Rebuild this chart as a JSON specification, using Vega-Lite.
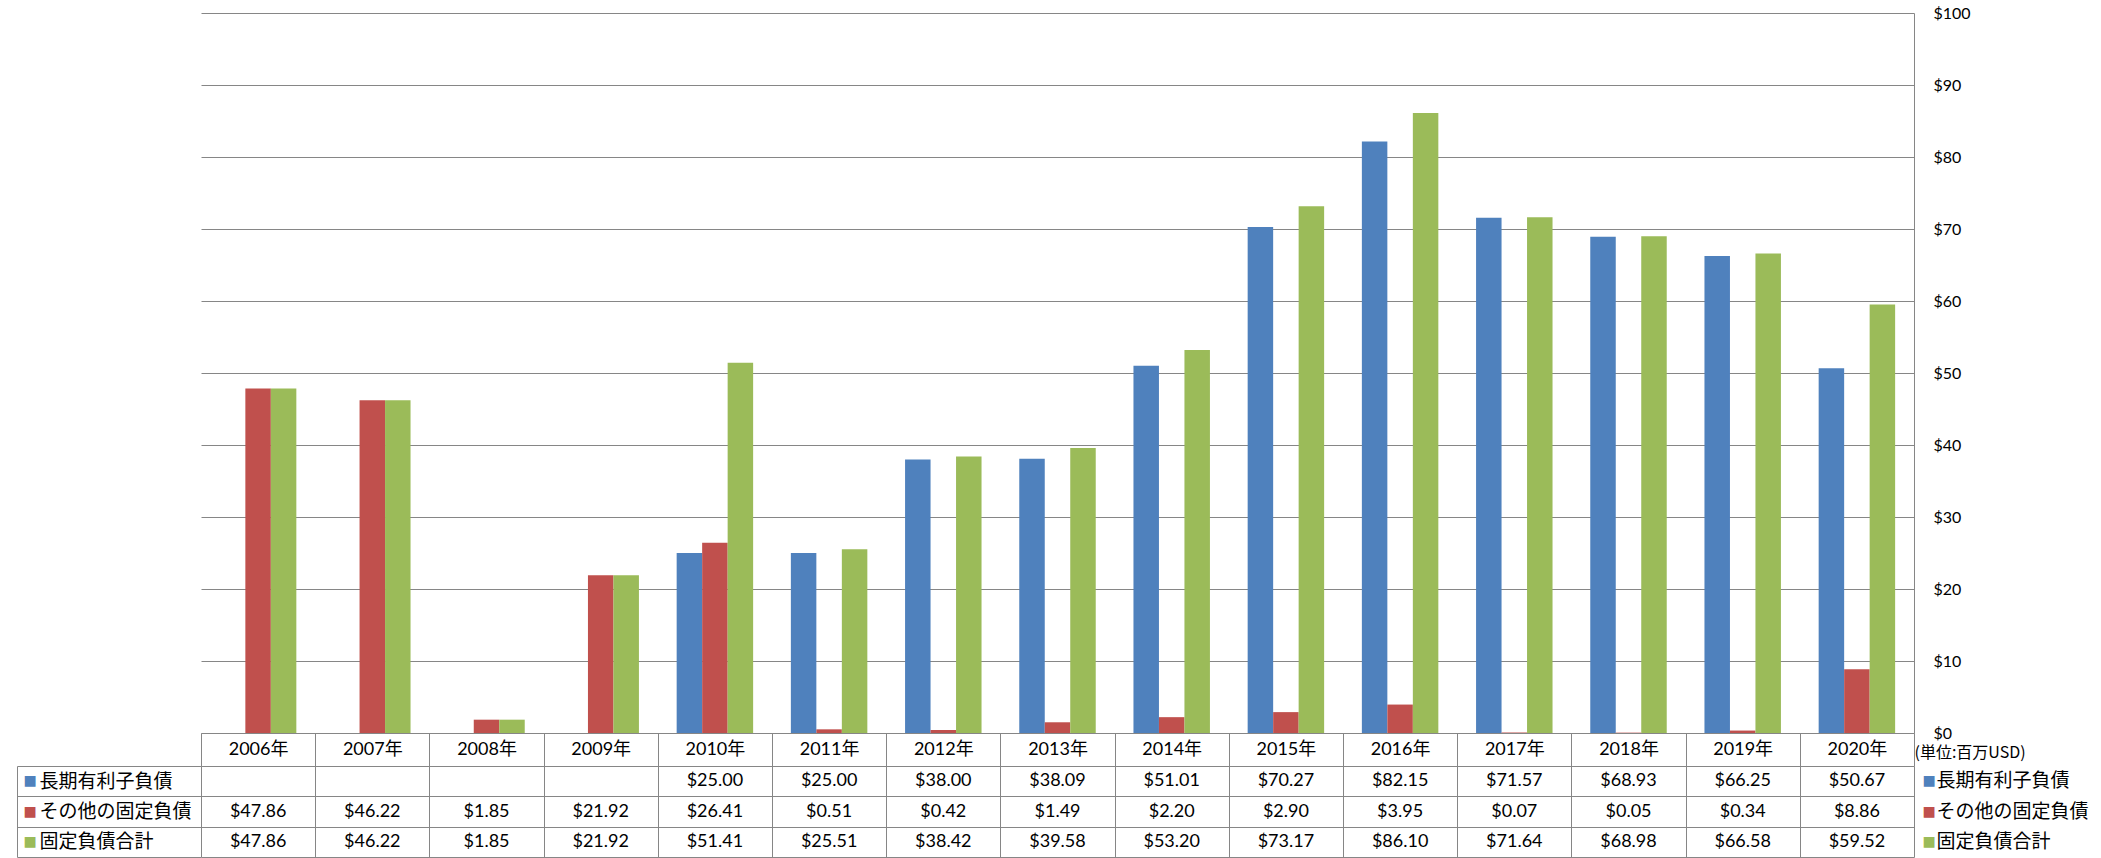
{
  "$schema": "https://vega.github.io/schema/vega-lite/v6.json",
  "padding": {"left": 16, "top": 5, "right": 10, "bottom": 0},
  "background": "white",
  "bounds": "flush",
  "spacing": 33,
  "config": {"view": {"stroke": null}},
  "datasets": {
    "d": [
      {"year": "2006年", "series": "その他の固定負債", "value": 47.86},
      {"year": "2006年", "series": "固定負債合計", "value": 47.86},
      {"year": "2007年", "series": "その他の固定負債", "value": 46.22},
      {"year": "2007年", "series": "固定負債合計", "value": 46.22},
      {"year": "2008年", "series": "その他の固定負債", "value": 1.85},
      {"year": "2008年", "series": "固定負債合計", "value": 1.85},
      {"year": "2009年", "series": "その他の固定負債", "value": 21.92},
      {"year": "2009年", "series": "固定負債合計", "value": 21.92},
      {"year": "2010年", "series": "長期有利子負債", "value": 25.00},
      {"year": "2010年", "series": "その他の固定負債", "value": 26.41},
      {"year": "2010年", "series": "固定負債合計", "value": 51.41},
      {"year": "2011年", "series": "長期有利子負債", "value": 25.00},
      {"year": "2011年", "series": "その他の固定負債", "value": 0.51},
      {"year": "2011年", "series": "固定負債合計", "value": 25.51},
      {"year": "2012年", "series": "長期有利子負債", "value": 38.00},
      {"year": "2012年", "series": "その他の固定負債", "value": 0.42},
      {"year": "2012年", "series": "固定負債合計", "value": 38.42},
      {"year": "2013年", "series": "長期有利子負債", "value": 38.09},
      {"year": "2013年", "series": "その他の固定負債", "value": 1.49},
      {"year": "2013年", "series": "固定負債合計", "value": 39.58},
      {"year": "2014年", "series": "長期有利子負債", "value": 51.01},
      {"year": "2014年", "series": "その他の固定負債", "value": 2.20},
      {"year": "2014年", "series": "固定負債合計", "value": 53.20},
      {"year": "2015年", "series": "長期有利子負債", "value": 70.27},
      {"year": "2015年", "series": "その他の固定負債", "value": 2.90},
      {"year": "2015年", "series": "固定負債合計", "value": 73.17},
      {"year": "2016年", "series": "長期有利子負債", "value": 82.15},
      {"year": "2016年", "series": "その他の固定負債", "value": 3.95},
      {"year": "2016年", "series": "固定負債合計", "value": 86.10},
      {"year": "2017年", "series": "長期有利子負債", "value": 71.57},
      {"year": "2017年", "series": "その他の固定負債", "value": 0.07},
      {"year": "2017年", "series": "固定負債合計", "value": 71.64},
      {"year": "2018年", "series": "長期有利子負債", "value": 68.93},
      {"year": "2018年", "series": "その他の固定負債", "value": 0.05},
      {"year": "2018年", "series": "固定負債合計", "value": 68.98},
      {"year": "2019年", "series": "長期有利子負債", "value": 66.25},
      {"year": "2019年", "series": "その他の固定負債", "value": 0.34},
      {"year": "2019年", "series": "固定負債合計", "value": 66.58},
      {"year": "2020年", "series": "長期有利子負債", "value": 50.67},
      {"year": "2020年", "series": "その他の固定負債", "value": 8.86},
      {"year": "2020年", "series": "固定負債合計", "value": 59.52}
    ]
  },
  "vconcat": [
    {
      "width": 1713,
      "height": 720,
      "data": {"name": "d"},
      "mark": {"type": "bar"},
      "encoding": {
        "x": {
          "field": "year", "type": "nominal", "sort": "ascending",
          "scale": {"paddingInner": 0, "paddingOuter": 0},
          "axis": {
            "orient": "bottom",
            "title": "(単位:百万USD)",
            "titleAnchor": "end", "titleAlign": "left", "titleBaseline": "top",
            "titlePadding": -22,
            "titleFont": "Noto Sans CJK JP", "titleFontSize": 16, "titleFontWeight": "normal", "titleColor": "#000000",
            "domain": true, "domainColor": "#868686",
            "ticks": true, "tickBand": "extent", "tickSize": 33, "tickColor": "#868686",
            "grid": false,
            "labelAngle": 0, "labelBaseline": "middle", "labelPadding": -17,
            "labelFont": "Lato, Noto Sans CJK JP", "labelFontSize": 18, "labelColor": "#000000"
          }
        },
        "y": {
          "field": "value", "type": "quantitative",
          "scale": {"domain": [0, 100], "nice": false},
          "axis": {
            "orient": "right", "title": null,
            "values": [0, 10, 20, 30, 40, 50, 60, 70, 80, 90, 100],
            "format": "$d",
            "grid": true, "gridColor": "#868686",
            "domain": true, "domainColor": "#868686",
            "ticks": false, "tickSize": 0,
            "labelPadding": 19, "labelAlign": "left", "labelBaseline": "middle",
            "labelFont": "Lato", "labelFontSize": 16, "labelColor": "#000000"
          }
        },
        "xOffset": {
          "field": "series", "type": "nominal",
          "scale": {"domain": ["長期有利子負債", "その他の固定負債", "固定負債合計"], "paddingInner": 0, "paddingOuter": 0.74}
        },
        "color": {
          "field": "series", "type": "nominal",
          "scale": {"domain": ["長期有利子負債", "その他の固定負債", "固定負債合計"], "range": ["#4F81BD", "#C0504D", "#9BBB59"]},
          "legend": null
        }
      }
    },
    {
      "width": 1713,
      "height": 91,
      "data": {"name": "d"},
      "resolve": {"axis": {"y": "independent"}},
      "layer": [
        {
          "mark": {"type": "text", "font": "Lato", "fontSize": 18, "color": "#000000", "align": "center", "baseline": "middle"},
          "encoding": {
            "x": {
              "field": "year", "type": "nominal", "sort": "ascending",
              "scale": {"paddingInner": 0, "paddingOuter": 0},
              "axis": {"title": null, "grid": true, "gridColor": "#868686", "tickBand": "extent", "labels": false, "ticks": false, "domain": false}
            },
            "y": {
              "field": "series", "type": "nominal",
              "scale": {"domain": ["長期有利子負債", "その他の固定負債", "固定負債合計"], "paddingInner": 0, "paddingOuter": 0},
              "axis": {
                "orient": "left", "title": null, "domain": false,
                "grid": true, "gridColor": "#868686", "tickBand": "extent",
                "ticks": true, "tickSize": 184, "tickColor": "#868686",
                "labelAlign": "left", "labelBaseline": "middle", "labelPadding": -22,
                "labelFont": "Noto Sans CJK JP", "labelFontSize": 19, "labelColor": "#000000", "labelLimit": 0
              }
            },
            "text": {"field": "value", "type": "quantitative", "format": "$.2f"}
          }
        },
        {
          "mark": {"type": "text", "opacity": 0},
          "encoding": {
            "y": {
              "field": "series", "type": "nominal",
              "axis": {
                "orient": "left", "title": null, "offset": 184,
                "domain": true, "domainColor": "#868686",
                "grid": false, "ticks": false, "tickSize": 0,
                "labelExpr": "'■'", "labelAlign": "left", "labelBaseline": "middle", "labelPadding": -6,
                "labelFont": "DejaVu Sans", "labelFontSize": 14,
                "labelColor": {"condition": [{"test": "datum.value === '長期有利子負債'", "value": "#4F81BD"}, {"test": "datum.value === 'その他の固定負債'", "value": "#C0504D"}], "value": "#9BBB59"}
              }
            },
            "text": {"value": ""}
          }
        },
        {
          "mark": {"type": "text", "opacity": 0},
          "encoding": {
            "y": {
              "field": "series", "type": "nominal",
              "axis": {
                "orient": "right", "title": null,
                "domain": false, "grid": false, "ticks": false, "tickSize": 0,
                "labelExpr": "'■'", "labelAlign": "left", "labelBaseline": "middle", "labelPadding": 8,
                "labelFont": "DejaVu Sans", "labelFontSize": 14,
                "labelColor": {"condition": [{"test": "datum.value === '長期有利子負債'", "value": "#4F81BD"}, {"test": "datum.value === 'その他の固定負債'", "value": "#C0504D"}], "value": "#9BBB59"}
              }
            },
            "text": {"value": ""}
          }
        },
        {
          "mark": {"type": "text", "opacity": 0},
          "encoding": {
            "y": {
              "field": "series", "type": "nominal",
              "axis": {
                "orient": "right", "title": null,
                "domain": false, "grid": false, "ticks": false, "tickSize": 0,
                "labelAlign": "left", "labelBaseline": "middle", "labelPadding": 22,
                "labelFont": "Noto Sans CJK JP", "labelFontSize": 19, "labelColor": "#000000", "labelLimit": 0
              }
            },
            "text": {"value": ""}
          }
        }
      ]
    }
  ]
}
